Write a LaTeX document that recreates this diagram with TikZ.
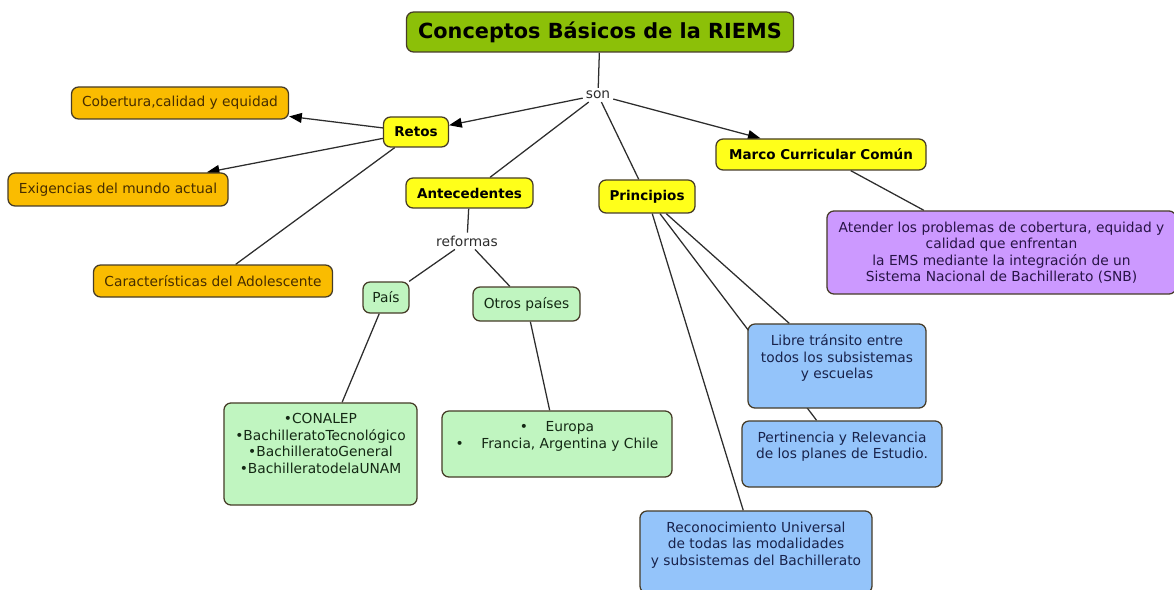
\documentclass[tikz,border=0pt]{standalone}
\usepackage{fontspec}
\setmainfont{DejaVu Sans}
\usepackage{xcolor}
\usetikzlibrary{arrows.meta,backgrounds}

\definecolor{titlegreen}{RGB}{140,192,8}
\definecolor{keyyellow}{RGB}{255,255,26}
\definecolor{retoorange}{RGB}{250,188,0}
\definecolor{antecmint}{RGB}{192,245,192}
\definecolor{marcopurple}{RGB}{204,153,255}
\definecolor{princblue}{RGB}{148,196,250}
\definecolor{boxedge}{RGB}{70,60,40}
\definecolor{linkgray}{RGB}{45,45,45}

\newcommand{\pxu}{0.025cm}
\newcommand{\toplines}[3]{\parbox[c][\dimexpr0.7113pt*#2-15pt\relax][t]{\dimexpr0.7113pt*#1\relax}{\centering #3}}

\begin{document}
\begin{tikzpicture}[x=0.025cm,y=-0.025cm,
  size/.style 2 args={minimum width=#1*\pxu,minimum height=#2*\pxu},
  concept/.style={draw=boxedge,line width=0.9pt,rounded corners=5pt,inner sep=0pt,
    font=\fontsize{9.8}{11.8}\selectfont},
  tall/.style={inner ysep=7.5pt},
  keybox/.style={concept,fill=keyyellow,font=\fontsize{9.6}{11.5}\selectfont\bfseries},
  retobox/.style={concept,fill=retoorange,text={rgb,255:red,70;green,45;blue,0}},
  antecbox/.style={concept,fill=antecmint,text={rgb,255:red,20;green,40;blue,20}},
  marcobox/.style={concept,fill=marcopurple,text={rgb,255:red,40;green,20;blue,70}},
  princbox/.style={concept,fill=princblue,text={rgb,255:red,25;green,35;blue,75}},
  link/.style={inner sep=2pt,font=\fontsize{9.8}{11.8}\selectfont,text=linkgray},
  edge/.style={draw=linkgray,line width=0.9pt},
  tip/.style={-{Triangle[length=9pt,width=7pt,fill=black,color=black]}}]
        \useasboundingbox (0,0) rectangle (1174,590);

        \node[concept,fill=titlegreen,size={387}{40},font=\fontsize{14.8}{17}\selectfont\bfseries](title) at (600,32) {Conceptos Básicos de la RIEMS};
        \node[link](son) at (598,95) {son};

        \node[keybox,size={65}{30}](retos) at (416,132) {Retos};
        \node[keybox,size={127}{30}](antec) at (469.5,193) {Antecedentes};
        \node[keybox,size={96}{33}](princ) at (647,196.5) {Principios};
        \node[keybox,size={210}{31}](marco) at (821,154.5) {Marco Curricular Común};

        \node[retobox,size={217}{32}](cobert) at (180,103) {Cobertura,calidad y equidad};
        \node[retobox,size={220}{33}](exig) at (118,189.5) {Exigencias del mundo actual};
        \node[retobox,size={239}{32}](adoles) at (213,281) {Características del Adolescente};

        \node[link](reformas) at (467,241) {reformas};
        \node[antecbox,size={46}{31}](pais) at (386,297.5) {País};
        \node[antecbox,size={107}{34}](otros) at (526.5,304) {Otros países};
        \node[antecbox,tall](nacional) at (320.5,454) {\toplines{193}{102}{\textbullet CONALEP\\\textbullet BachilleratoTecnológico\\\textbullet BachilleratoGeneral\\\textbullet BachilleratodelaUNAM}};
        \node[antecbox,tall](extranj) at (557,444) {\toplines{230}{66}{\textbullet\hspace{12.5pt}Europa\\\textbullet\hspace{12.5pt}Francia, Argentina y Chile}};

        \node[marcobox,tall](snb) at (1001.5,252.5) {\toplines{349}{83}{Atender los problemas de cobertura, equidad y\\calidad que enfrentan\\la EMS mediante la integración de un\\Sistema Nacional de Bachillerato (SNB)}};

        \node[princbox,tall](transito) at (837,366) {\toplines{178}{84}{Libre tránsito entre\\todos los subsistemas\\y escuelas}};
        \node[princbox,tall](pertin) at (842,454) {\toplines{200}{66}{Pertinencia y Relevancia\\de los planes de Estudio.}};
        \node[princbox,tall](reconoc) at (756,552) {\toplines{232}{82}{Reconocimiento Universal\\de todas las modalidades\\y subsistemas del Bachillerato}};

        \begin{scope}[on background layer]
        \draw[edge](title)--(son);
        \draw[edge,tip](son)--(retos);
        \draw[edge](son)--(antec);
        \draw[edge](son)--(princ);
        \draw[edge,tip](son)--(marco);
        \draw[edge,tip](retos)--(cobert);
        \draw[edge,tip](retos)--(exig);
        \draw[edge](retos)--(adoles);
        \draw[edge](antec)--(reformas);
        \draw[edge](reformas)--(pais);
        \draw[edge](reformas)--(otros);
        \draw[edge](pais)--(nacional);
        \draw[edge](otros)--(extranj);
        \draw[edge](marco)--(snb);
        \draw[edge](princ)--(transito);
        \draw[edge](princ)--(pertin);
        \draw[edge](princ)--(reconoc);
        \end{scope}
        \end{tikzpicture}
\end{document}
